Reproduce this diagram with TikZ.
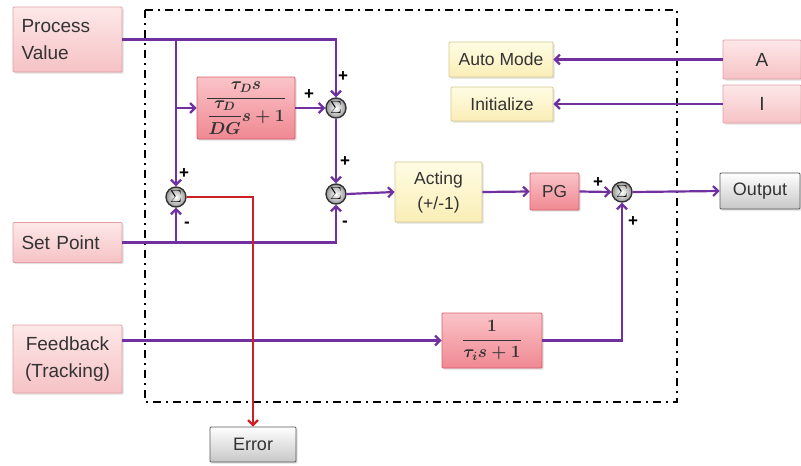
\documentclass[tikz,border=0pt]{standalone}
\usepackage{amsmath}
\usepackage{fontspec}
\setmainfont{Liberation Sans}
\usetikzlibrary{arrows.meta,shadows}
\definecolor{sigpurple}{RGB}{112,48,160}
\definecolor{errred}{RGB}{204,32,39}
\definecolor{pvtop}{RGB}{253,232,232}
\definecolor{pvbot}{RGB}{246,194,197}
\definecolor{pvline}{RGB}{228,160,165}
\definecolor{gaintop}{RGB}{250,196,200}
\definecolor{gainbot}{RGB}{240,136,146}
\definecolor{gainline}{RGB}{214,96,106}
\definecolor{modetop}{RGB}{255,252,228}
\definecolor{modebot}{RGB}{250,238,182}
\definecolor{modeline}{RGB}{212,202,142}
\tikzset{
  blk/.style={draw, line width=.8pt, rounded corners=1pt, inner sep=0pt,
    text=black!80,
    drop shadow={shadow xshift=1.5pt,shadow yshift=-1.5pt,opacity=.25}},
  inbox/.style={blk, top color=pvtop, bottom color=pvbot, draw=pvline,
    align=center, font=\fontsize{19}{27}\selectfont},
  gainbox/.style={blk, top color=gaintop, bottom color=gainbot, draw=gainline,
    font=\fontsize{17.28}{20}\selectfont},
  gainmath/.style={gainbox, font=\fontsize{17.28}{20}\selectfont\boldmath},
  modebox/.style={blk, top color=modetop, bottom color=modebot, draw=modeline,
    align=center, font=\fontsize{17.5}{25}\selectfont},
  outbox/.style={blk, top color=white, bottom color=black!22, draw=black!65,
    font=\fontsize{18}{22}\selectfont},
  sumnode/.style={circle, draw=black!80, line width=1.4pt, inner sep=0pt,
    minimum size=20pt, inner color=white, outer color=black!40,
    font=\fontsize{17.28}{18}\selectfont},
  sig/.style={draw=sigpurple, line width=2.2pt,
    -{Straight Barb[length=5pt,width=10pt]}},
  errline/.style={draw=errred, line width=2.2pt,
    -{Straight Barb[length=5pt,width=10pt]}},
  sgn/.style={font=\bfseries\fontsize{17}{17}\selectfont, inner sep=0pt},
  ctlframe/.style={line width=2.2pt, dash pattern=on 8pt off 5pt on 2pt off 5pt},
}

\begin{document}
\begin{tikzpicture}[x=1pt,y=-1pt]
  \useasboundingbox (0,0) rectangle (801,466);
  % outer frame of the controller
  \draw[ctlframe] (145,10) rectangle (677,402);

  % inputs and outputs
  \node[inbox, minimum width=109pt, minimum height=65pt, text width=92pt, align=left] (pv) at (67.5,39.5) {Process\\Value};
  \node[inbox, minimum width=109pt, minimum height=40pt, text width=92pt, align=left] (sp) at (67.5,242.5) {Set Point};
  \node[inbox, minimum width=109pt, minimum height=68pt] (fb) at (67.5,359) {Feedback\\(Tracking)};
  \node[inbox, minimum width=78pt, minimum height=39pt] (abox) at (762,59.5) {A};
  \node[inbox, minimum width=78pt, minimum height=38pt] (ibox) at (762,104) {I};
  \node[outbox, minimum width=80pt, minimum height=36pt] (out) at (760,191) {Output};
  \node[outbox, minimum width=86pt, minimum height=35pt] (err) at (253,444.5) {Error};

  % blocks
  \node[gainmath, minimum width=98pt, minimum height=62pt] (tdbox) at (246,108) {$\displaystyle\frac{\tau_D s}{\dfrac{\tau_D}{DG}s+1}$};
  \node[gainmath, minimum width=100pt, minimum height=55pt] (tibox) at (492,340.5) {$\displaystyle\frac{1}{\tau_i s+1}$};
  \node[gainbox, minimum width=49pt, minimum height=37pt] (pg) at (554.5,191.5) {PG};
  \node[modebox, minimum width=87pt, minimum height=60pt] (acting) at (438.5,192) {Acting\\(+/-1)};
  \node[modebox, minimum width=104pt, minimum height=35pt] (auto) at (501,59.5) {Auto Mode};
  \node[modebox, minimum width=102pt, minimum height=34pt] (init) at (502,104) {Initialize};

  % summing points
  \node[sumnode] (sumA) at (176,197) {$\Sigma$};
  \node[sumnode] (sumB) at (336,108) {$\Sigma$};
  \node[sumnode] (sumC) at (336,194) {$\Sigma$};
  \node[sumnode] (sumD) at (622,192) {$\Sigma$};

  % signal lines
  \coordinate (pvtap) at (sumA |- pv.east);
  \coordinate (tdtap) at (sumA |- tdbox.west);
  \coordinate (sptap) at (sumA |- sp.east);
  \draw[sig] (pv.east) -| (sumB.north);
  \draw[sig] (pvtap) -- (sumA.north);
  \draw[sig] (tdtap) -- (tdbox.west);
  \draw[sig] (tdbox.east) -- (sumB.west);
  \draw[sig] (sumB.south) -- (sumC.north);
  \draw[sig] (sp.east) -| (sumC.south);
  \draw[sig] (sptap) -- (sumA.south);
  \draw[sig] (sumC.east) -- (acting.west);
  \draw[sig] (acting.east) -- (pg.west);
  \draw[sig] (pg.east) -- (sumD.west);
  \draw[sig] (sumD.east) -- (out.west);
  \draw[sig] (fb.east |- tibox.west) -- (tibox.west);
  \draw[sig] (tibox.east) -| (sumD.south);
  \draw[sig] (abox.west) -- (auto.east);
  \draw[sig] (ibox.west) -- (init.east);
  \draw[errline] (sumA.east) -| (err.north);

  % signs
  \node[sgn] (sgnA1) at (184,174) {+};
  \node[sgn] (sgnA2) at (187,225) {-};
  \node[sgn] (sgnB1) at (343,77) {+};
  \node[sgn] (sgnB2) at (309,95) {+};
  \node[sgn] (sgnC1) at (345,162) {+};
  \node[sgn] (sgnC2) at (345,224) {-};
  \node[sgn] (sgnD1) at (598,183) {+};
  \node[sgn] (sgnD2) at (633,222) {+};
\end{tikzpicture}
\end{document}
